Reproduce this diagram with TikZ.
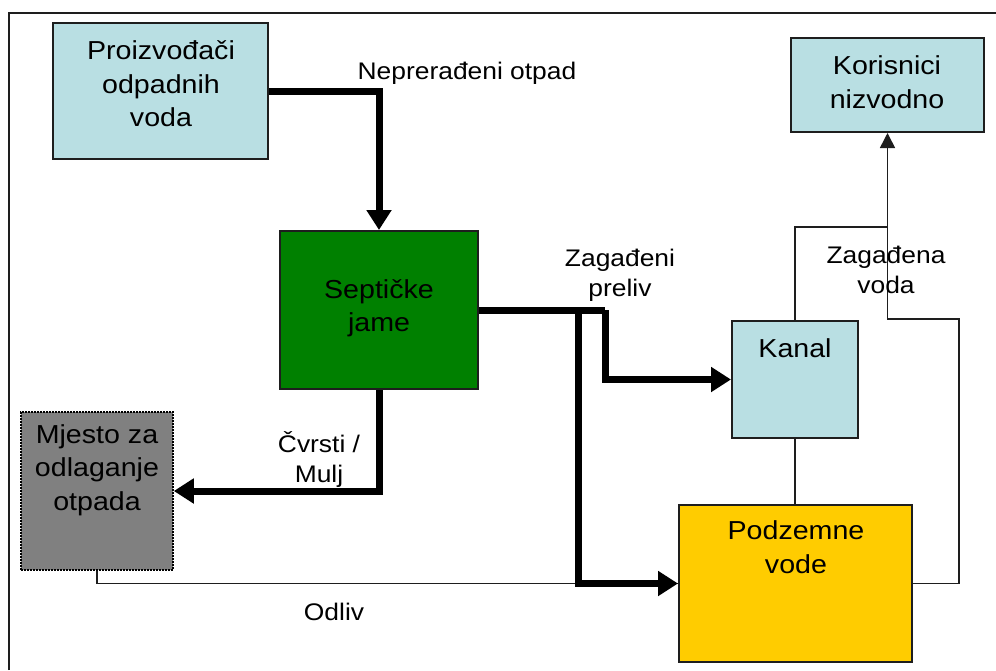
\documentclass[tikz,border=0pt]{standalone}
\usepackage{fontspec}
\setmainfont{Liberation Sans}[FakeStretch=1.1]
\usetikzlibrary{arrows.meta}
\definecolor{lblue}{RGB}{185,223,227}
\definecolor{sgreen}{RGB}{0,128,0}
\definecolor{sgray}{RGB}{128,128,128}
\definecolor{syellow}{RGB}{255,204,0}
\definecolor{edge}{RGB}{30,30,30}
\begin{document}
\begin{tikzpicture}[x=1pt,y=-1pt,
  box/.style={draw=edge,line width=2pt,inner sep=0pt,rectangle},
  txt/.style={inner sep=0pt,align=center,font=\fontsize{26}{33.5}\selectfont},
  lbl/.style={inner sep=0pt,align=center,font=\fontsize{24}{30}\selectfont},
  heavy/.style={line width=7pt,-{Triangle[length=20pt,width=24pt]}},
  heavyplain/.style={line width=7pt},
  thinline/.style={line width=1.6pt,draw=edge},
  thinarrow/.style={line width=1.6pt,draw=edge,-{Triangle[length=15pt,width=15pt]}}]
\useasboundingbox (0,0) rectangle (996,670);
\draw[line width=2pt,draw=edge] (9,670) -- (9,13) -- (996,13);
% boxes
\node[box,fill=lblue,minimum width=215pt,minimum height=136pt] (prod) at (160.5,91) {};
\node[box,fill=lblue,minimum width=193pt,minimum height=94pt] (kor) at (887.5,85) {};
\node[box,fill=sgreen,minimum width=198pt,minimum height=158pt] (sept) at (379,310) {};
\node[box,fill=sgray,draw=black,densely dotted,line width=1.6pt,minimum width=152pt,minimum height=158pt] (mj) at (97,491) {};
\node[box,fill=lblue,minimum width=126pt,minimum height=117pt] (kanal) at (795,379.5) {};
\node[box,fill=syellow,minimum width=233pt,minimum height=157pt] (podz) at (795.5,583.5) {};
% texts in boxes
\node[txt] (prodt) at (161,84) {Proizvođači\\odpadnih\\voda};
\node[txt] (kort) at (887,82) {Korisnici\\nizvodno};
\node[txt] (septt) at (379,308) {Septičke\\jame};
\node[txt] (mjt) at (97,470) {Mjesto za\\odlaganje\\otpada};
\node[txt] (kanalt) at (795,348) {Kanal};
\node[txt] (podzt) at (796,547) {Podzemne\\vode};
% coordinates
\coordinate (c1) at (605,310);
\coordinate (c2) at (578,310);
\coordinate (c4) at (888,227);
\coordinate (c6) at (959,319);
% connectors
\draw[thinline] (mj.south) |- (podz.west);
\draw[heavy] (prod.east) -| (sept.north);
\draw[heavy] (sept.south) |- (mj.east);
\draw[heavyplain] (sept.east) -- (c1);
\draw[heavy] (c1) |- (kanal.west);
\draw[heavy] (c2) |- (podz.west);
\draw[thinline] (kanal.south) -- (kanal.south |- podz.north);
\draw[thinline] (kanal.north) |- (c4);
\draw[thinarrow] (podz.east) -| (c6) -| (kor.south);
% labels
\node[lbl] (l1) at (467,73) {Neprerađeni otpad};
\node[lbl] (l2) at (620,275) {Zagađeni\\preliv};
\node[lbl] (l3) at (886,270) {Zagađena\\voda};
\node[lbl] (l4) at (319,459) {Čvrsti /\\Mulj};
\node[lbl] (l5) at (334,612) {Odliv};
\end{tikzpicture}
\end{document}
